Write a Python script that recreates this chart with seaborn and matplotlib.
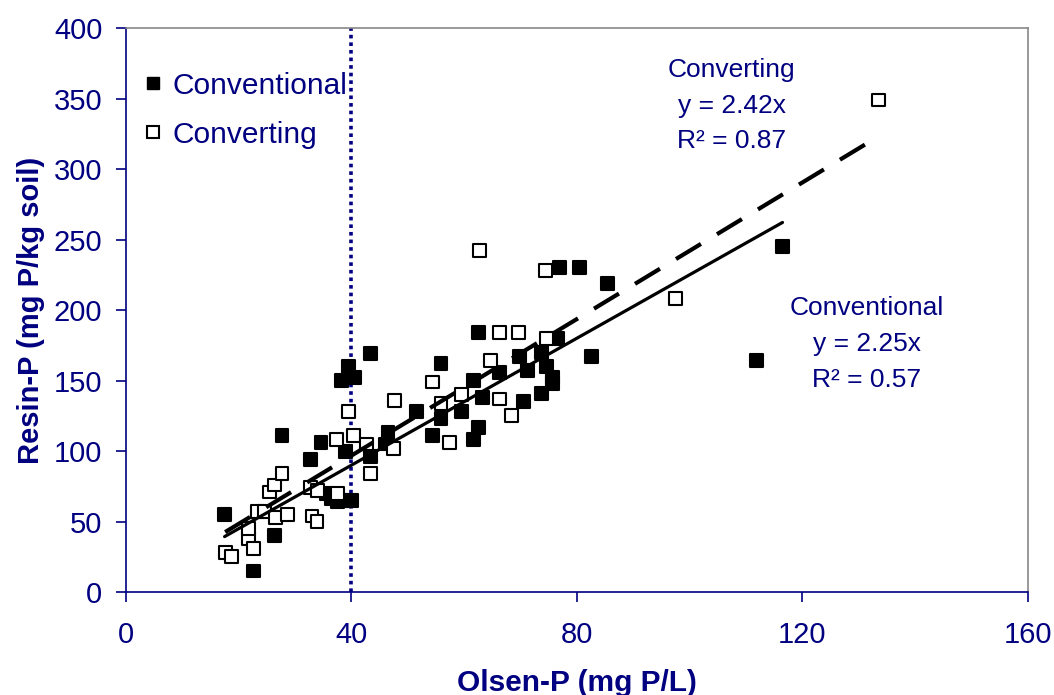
import pandas as pd
import matplotlib.pyplot as plt
import seaborn as sns
from matplotlib.lines import Line2D

# ==============================
# DATA
# ==============================

conv_olsen = [17.5, 22.6, 26.4, 27.7, 32.8, 34.6, 35.6, 36.5, 37.6, 39.2, 40.0,
              39.0, 38.3, 39.5, 40.6, 43.4, 43.4, 46.5, 46.0, 51.6, 54.4, 55.9,
              55.9, 59.6, 61.7, 61.7, 62.6, 62.6, 63.3, 66.3, 69.9, 70.6, 71.3,
              73.8, 73.8, 74.6, 75.7, 75.7, 76.6, 77.0, 80.5, 85.5, 82.6, 111.9,
              116.5]
conv_resin = [55, 15, 40, 111, 94, 106, 70, 66, 64, 65, 65,
              100, 150, 160, 152, 169, 96, 113, 105, 128, 111, 123,
              162, 128, 150, 108, 117, 184, 138, 156, 167, 135, 157,
              141, 170, 160, 152, 148, 180, 230, 230, 219, 167, 164,
              245]

convt_olsen = [17.6, 18.8, 21.8, 22.6, 21.8, 23.4, 24.6, 25.5, 26.4, 26.6, 27.7,
               28.6, 32.8, 33.0, 33.9, 34.0, 37.4, 37.6, 39.5, 40.4, 42.7, 43.4,
               47.7, 47.5, 54.4, 55.9, 57.4, 59.6, 62.8, 64.7, 66.3, 66.3, 68.4,
               69.7, 74.6, 74.5, 97.5, 133.5]
convt_resin = [28, 25, 38, 31, 45, 57, 57, 71, 76, 53, 84,
               55, 74, 54, 50, 72, 108, 70, 128, 111, 105, 84,
               136, 102, 149, 134, 106, 140, 242, 164, 184, 137, 125,
               184, 180, 228, 208, 349]

slope_conv = 2.25
slope_convt = 2.42
r2_conv = 0.57
r2_convt = 0.87
threshold = 40

navy = "#000080"

df = pd.concat([
    pd.DataFrame({"olsen": conv_olsen, "resin": conv_resin, "group": "Conventional"}),
    pd.DataFrame({"olsen": convt_olsen, "resin": convt_resin, "group": "Converting"}),
])

# ==============================
# PLOT
# ==============================

sns.set_style("white")
plt.rcParams['font.family'] = ['Liberation Sans', 'DejaVu Sans']

fig = plt.figure(figsize=(10.54, 6.95), dpi=100)
ax = fig.add_axes([0.1195, 0.148, 0.8555, 0.8117])

ax.axvline(threshold, color=navy, lw=2.6, linestyle=(0, (1, 1.1)), zorder=1)

sns.scatterplot(data=df, x="olsen", y="resin", hue="group",
                palette={"Conventional": "black", "Converting": "white"},
                marker="s", s=85, edgecolor="black", linewidth=1.5,
                legend=False, ax=ax, zorder=3)

# fitted lines through the origin
for grp, slope, style in [("Conventional", slope_conv, "-"),
                          ("Converting", slope_convt, (0, (7, 4.5)))]:
    sub = df[df["group"] == grp]
    xs = [sub["olsen"].min(), sub["olsen"].max()]
    ax.plot(xs, [slope * v for v in xs], color="black",
            lw=2.3 if style == "-" else 3, linestyle=style, zorder=4)

ax.set_xlim(0, 160)
ax.set_ylim(0, 400)
ax.set_xticks([0, 40, 80, 120, 160])
ax.set_yticks(range(0, 401, 50))

ax.set_xlabel("Olsen-P (mg P/L)", fontsize=21.5, fontweight="bold", color=navy, labelpad=14)
ax.set_ylabel("Resin-P (mg P/kg soil)", fontsize=21, fontweight="bold", color=navy, labelpad=6.5)

ax.tick_params(axis="both", colors=navy, labelsize=21, direction="out",
               length=7, width=1.2, bottom=True, left=True)
ax.tick_params(axis="x", pad=14)
ax.tick_params(axis="y", pad=10)
ax.spines["left"].set_color(navy)
ax.spines["bottom"].set_color(navy)
ax.spines["top"].set_color("#888888")
ax.spines["right"].set_color("#888888")
for sp in ax.spines.values():
    sp.set_linewidth(1.2)

handles = [
    Line2D([], [], marker="s", ls="", markersize=9, markerfacecolor="black",
           markeredgecolor="black", label="Conventional"),
    Line2D([], [], marker="s", ls="", markersize=9, markerfacecolor="white",
           markeredgecolor="black", markeredgewidth=1.5, label="Converting"),
]
leg = ax.legend(handles=handles, loc="upper left", bbox_to_anchor=(-0.016, 0.97),
                frameon=False, fontsize=21.5, handlelength=1.0, handletextpad=0.15,
                labelspacing=0.7)
for t in leg.get_texts():
    t.set_color(navy)

ax.text(107.5, 345, "Converting\ny = %.2fx\nR² = %.2f" % (slope_convt, r2_convt),
        ha="center", va="center", fontsize=19, color=navy, linespacing=1.6)
ax.text(131.5, 176, "Conventional\ny = %.2fx\nR² = %.2f" % (slope_conv, r2_conv),
        ha="center", va="center", fontsize=19, color=navy, linespacing=1.65)

plt.savefig("out.png", dpi=100)
